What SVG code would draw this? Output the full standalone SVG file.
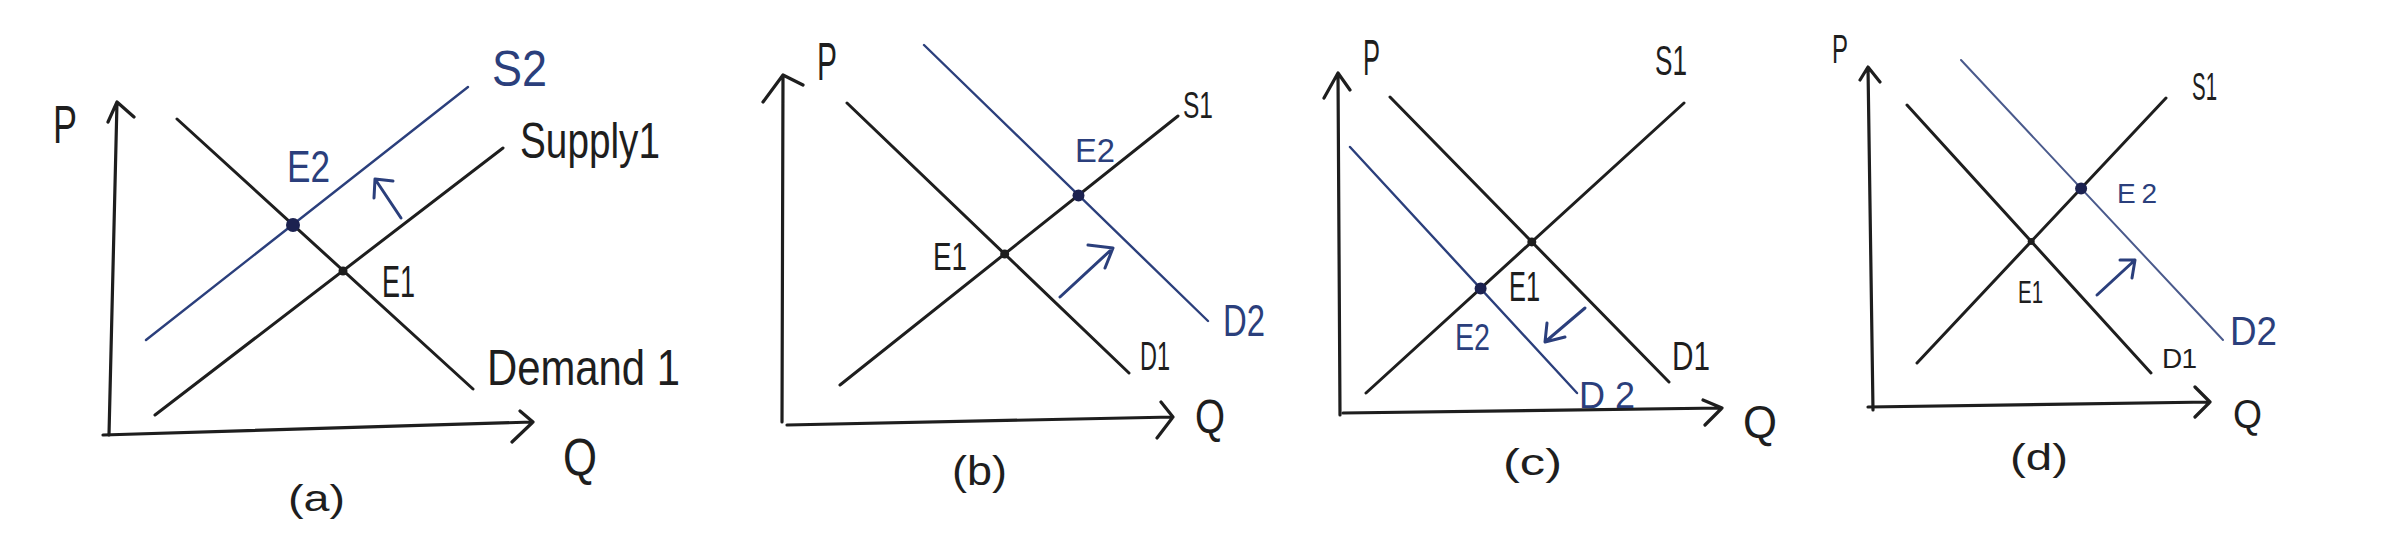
<svg xmlns="http://www.w3.org/2000/svg" width="2399" height="541" viewBox="0 0 2399 541">
<style>
.bg{fill:#ffffff}
.ax{fill:none;stroke:#1e1e1e;stroke-width:3.2;stroke-linecap:round;stroke-linejoin:round}
.k{fill:none;stroke:#1e1e1e;stroke-width:3;stroke-linecap:round}
.b{fill:none;stroke:#2b3f7c;stroke-width:2.4;stroke-linecap:round}
.bl{fill:none;stroke:#4a5a8c;stroke-width:2;stroke-linecap:round}
.arr{fill:none;stroke:#2b3f7c;stroke-width:3;stroke-linecap:round;stroke-linejoin:round}
.t{font-family:"Liberation Sans","DejaVu Sans",sans-serif;fill:#1e1e1e}
.tb{font-family:"Liberation Sans","DejaVu Sans",sans-serif;fill:#2b3f7c}
.dk{fill:#1e1e1e}
.db{fill:#1c2250}
</style>
<rect class="bg" x="0" y="0" width="2399" height="541"/>

<g id="panel-a">
  <g id="a-axes">
    <path class="ax" d="M109,435 L117,102 M108,122 L117,102 L134,117"/>
    <path class="ax" d="M103,435 L533,422 M520,411 L533,422 L512,442"/>
  </g>
  <g id="a-curves">
    <path class="k" d="M177,119 L473,389"/>
    <path class="k" d="M155,415 L503,148"/>
    <path class="b" d="M146,340 L468,87"/>
    <path class="arr" d="M401,218 L375,179 M393,181 L375,179 L374,198"/>
  </g>
  <g id="a-points">
    <circle class="db" cx="293" cy="225" r="7"/>
    <circle class="dk" cx="343" cy="271" r="4.5"/>
  </g>
  <g id="a-labels">
    <text class="t" x="53" y="143" font-size="54" textLength="24" lengthAdjust="spacingAndGlyphs">P</text>
    <text class="tb" x="492" y="86" font-size="50" textLength="55" lengthAdjust="spacingAndGlyphs">S2</text>
    <text class="t" x="520" y="158" font-size="50" textLength="140" lengthAdjust="spacingAndGlyphs">Supply1</text>
    <text class="t" x="487" y="385" font-size="50" textLength="193" lengthAdjust="spacingAndGlyphs">Demand 1</text>
    <text class="tb" x="287" y="182" font-size="44" textLength="43" lengthAdjust="spacingAndGlyphs">E2</text>
    <text class="t" x="382" y="297" font-size="44" textLength="33" lengthAdjust="spacingAndGlyphs">E1</text>
    <text class="t" x="563" y="475" font-size="52" textLength="34" lengthAdjust="spacingAndGlyphs">Q</text>
    <text class="t" x="288" y="511" font-size="36" textLength="57" lengthAdjust="spacingAndGlyphs">(a)</text>
  </g>
</g>

<g id="panel-b">
  <g id="b-axes">
    <path class="ax" d="M782,422 L783,75 M763,102 L783,75 L803,85"/>
    <path class="ax" d="M787,425 L1173,417 M1161,402 L1173,417 L1157,438"/>
  </g>
  <g id="b-curves">
    <path class="k" d="M847,103 L1129,373"/>
    <path class="k" d="M840,385 L1178,116"/>
    <path class="b" d="M924,45 L1208,321"/>
    <path class="arr" d="M1060,297 L1113,248 M1088,245 L1113,248 L1105,268"/>
  </g>
  <g id="b-points">
    <circle class="dk" cx="1004.7" cy="254" r="4.5"/>
    <circle class="db" cx="1078.5" cy="195.5" r="6"/>
  </g>
  <g id="b-labels">
    <text class="t" x="817" y="80" font-size="54" textLength="20" lengthAdjust="spacingAndGlyphs">P</text>
    <text class="t" x="1195" y="433" font-size="48" textLength="30" lengthAdjust="spacingAndGlyphs">Q</text>
    <text class="t" x="952" y="485" font-size="40" textLength="55" lengthAdjust="spacingAndGlyphs">(b)</text>
    <text class="t" x="933" y="270" font-size="38" textLength="34" lengthAdjust="spacingAndGlyphs">E1</text>
    <text class="tb" x="1075" y="162" font-size="34" textLength="40" lengthAdjust="spacingAndGlyphs">E2</text>
    <text class="t" x="1183" y="118" font-size="36" textLength="30" lengthAdjust="spacingAndGlyphs">S1</text>
    <text class="t" x="1140" y="370" font-size="40" textLength="30" lengthAdjust="spacingAndGlyphs">D1</text>
    <text class="tb" x="1223" y="336" font-size="44" textLength="42" lengthAdjust="spacingAndGlyphs">D2</text>
  </g>
</g>

<g id="panel-c">
  <g id="c-axes">
    <path class="ax" d="M1340,415 L1338,73 M1324,98 L1338,73 L1350,90"/>
    <path class="ax" d="M1343,413 L1722,408 M1703,400 L1722,408 L1705,425"/>
  </g>
  <g id="c-curves">
    <path class="k" d="M1390,97 L1669,382"/>
    <path class="k" d="M1366,393 L1684,103"/>
    <path class="b" d="M1350,147 L1577,393"/>
    <path class="arr" d="M1585,308 L1545,342 M1547,323 L1545,342 L1565,337"/>
  </g>
  <g id="c-points">
    <circle class="dk" cx="1531.8" cy="241.9" r="4.5"/>
    <circle class="db" cx="1480.6" cy="288.5" r="6"/>
  </g>
  <g id="c-labels">
    <text class="t" x="1363" y="75" font-size="50" textLength="17" lengthAdjust="spacingAndGlyphs">P</text>
    <text class="t" x="1743" y="438" font-size="46" textLength="34" lengthAdjust="spacingAndGlyphs">Q</text>
    <text class="t" x="1503" y="475" font-size="36" textLength="59" lengthAdjust="spacingAndGlyphs">(c)</text>
    <text class="t" x="1655" y="75" font-size="42" textLength="32" lengthAdjust="spacingAndGlyphs">S1</text>
    <text class="t" x="1509" y="301" font-size="42" textLength="31" lengthAdjust="spacingAndGlyphs">E1</text>
    <text class="tb" x="1455" y="350" font-size="36" textLength="35" lengthAdjust="spacingAndGlyphs">E2</text>
    <text class="t" x="1672" y="370" font-size="40" textLength="38" lengthAdjust="spacingAndGlyphs">D1</text>
    <text class="tb" x="1579" y="408" font-size="36" textLength="56" lengthAdjust="spacing">D2</text>
  </g>
</g>

<g id="panel-d">
  <g id="d-axes">
    <path class="ax" d="M1873,410 L1868,67 M1860,80 L1868,67 L1880,82"/>
    <path class="ax" d="M1868,407 L2210,402 M2195,387 L2210,402 L2195,417"/>
  </g>
  <g id="d-curves">
    <path class="k" d="M1907,105 L2151,373"/>
    <path class="k" d="M1917,363 L2166,98"/>
    <path class="bl" d="M1961,60 L2223,340"/>
    <path class="arr" d="M2097,295 L2135,260 M2120,260 L2135,260 L2132,278"/>
  </g>
  <g id="d-points">
    <circle class="dk" cx="2031.2" cy="241.4" r="3.5"/>
    <circle class="db" cx="2081.1" cy="188.4" r="6"/>
  </g>
  <g id="d-labels">
    <text class="t" x="1832" y="63" font-size="40" textLength="16" lengthAdjust="spacingAndGlyphs">P</text>
    <text class="t" x="2233" y="428" font-size="40" textLength="29" lengthAdjust="spacingAndGlyphs">Q</text>
    <text class="t" x="2010" y="470" font-size="36" textLength="58" lengthAdjust="spacingAndGlyphs">(d)</text>
    <text class="t" x="2192" y="100" font-size="38" textLength="25" lengthAdjust="spacingAndGlyphs">S1</text>
    <text class="tb" x="2117" y="203" font-size="28" textLength="40" lengthAdjust="spacing">E2</text>
    <text class="t" x="2018" y="303" font-size="32" textLength="25" lengthAdjust="spacingAndGlyphs">E1</text>
    <text class="t" x="2162" y="368" font-size="28" textLength="35" lengthAdjust="spacing">D1</text>
    <text class="tb" x="2230" y="345" font-size="40" textLength="47" lengthAdjust="spacingAndGlyphs">D2</text>
  </g>
</g>
</svg>
